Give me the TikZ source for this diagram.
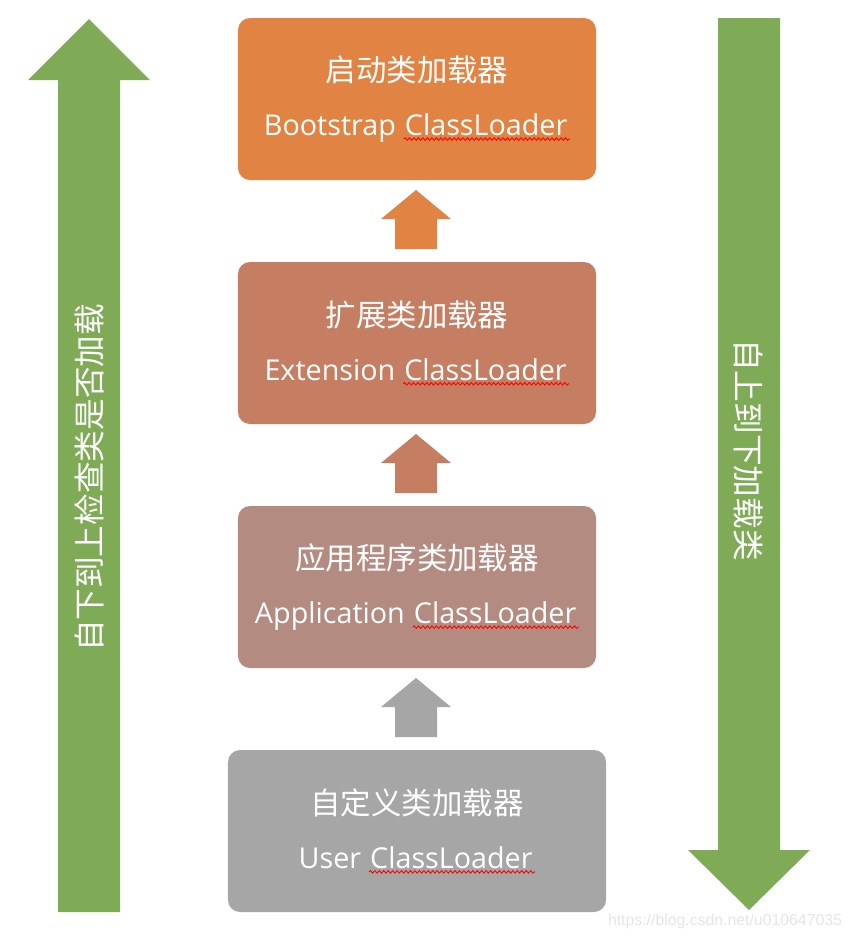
\documentclass[tikz,border=0pt]{standalone}
\usepackage{fontspec}
\setmainfont{Noto Sans CJK SC}
\newfontfamily\enfont{Open Sans}
\newfontfamily\wmfont{Liberation Sans}
\usepackage{tikz}
\usetikzlibrary{positioning,decorations.pathmorphing}
\definecolor{bootcolor}{RGB}{224,131,67}
\definecolor{extcolor}{RGB}{198,126,99}
\definecolor{appcolor}{RGB}{180,139,129}
\definecolor{usercolor}{RGB}{166,166,166}
\definecolor{arrowgreen}{RGB}{127,171,87}
\newcommand{\redwave}[1]{\tikz[baseline=(w.base),x=1cm,y=1cm]{%
  \node[inner sep=0pt, outer sep=0pt, fill=none, draw=none, rounded corners=0pt, minimum width=0pt, minimum height=0pt] (w) {#1};
  \draw[red, line width=0.75pt, fill=none, rounded corners=0pt, decorate, decoration={snake, segment length=3.8pt, amplitude=1.1pt}] ([yshift=-3.2pt,xshift=-1pt]w.base west) -- ([yshift=-3.2pt,xshift=2pt]w.base east);}}
\newcommand{\loadertext}[2]{\fontsize{26}{46}\selectfont #1\\\enfont\fontsize{24.5}{46}\selectfont #2 \redwave{ClassLoader}}

\begin{document}
\begin{tikzpicture}[x=0.03cm,y=-0.03cm,%
    loader/.style = {rectangle, rounded corners=0.36cm, text=white, align=center, minimum height=4.86cm, font=\fontsize{22}{46}\selectfont},
    block1/.style = {loader, fill=bootcolor, minimum width=10.74cm},
    block2/.style = {loader, fill=extcolor, minimum width=10.74cm},
    block3/.style = {loader, fill=appcolor, minimum width=10.74cm},
    block4/.style = {loader, fill=usercolor, minimum width=11.34cm},
    side/.style   = {text=white, font=\fontsize{27}{30}\selectfont}]

  \useasboundingbox (0,0) rectangle (852,940);

  % big green arrows
  \fill[arrowgreen] (58,912) -- (58,80) -- (28,80) -- (89,19) -- (150,80) -- (120,80) -- (120,912) -- cycle;
  \fill[arrowgreen] (718,18) -- (780,18) -- (780,850) -- (810,850) -- (749,910) -- (688,850) -- (718,850) -- cycle;
  \draw (89,478) node[side, rotate=90] (up) {自下到上检查类是否加载};
  \draw (749,450) node[side, rotate=-90] (down) {自上到下加载类};

  % loaders
  \draw (417,99) node[block1] (boot) {\loadertext{启动类加载器}{Bootstrap}};
  \draw (417,343) node[block2] (ext) {\loadertext{扩展类加载器}{Extension}};
  \draw (417,587) node[block3] (app) {\loadertext{应用程序类加载器}{Application}};
  \draw (417,831) node[block4] (user) {\loadertext{自定义类加载器}{User}};

  % small arrows
  \foreach \yy/\cc in {190/bootcolor, 434/extcolor, 678/usercolor}
    \fill[\cc] (395,\yy+59) -- (395,\yy+29) -- (381,\yy+29) -- (416,\yy) -- (451,\yy+29) -- (437,\yy+29) -- (437,\yy+59) -- cycle;

  \draw (725,921) node[text=black!10, font=\wmfont\fontsize{13.5}{15}\selectfont] (mark) {https://blog.csdn.net/u010647035};
\end{tikzpicture}
\end{document}
